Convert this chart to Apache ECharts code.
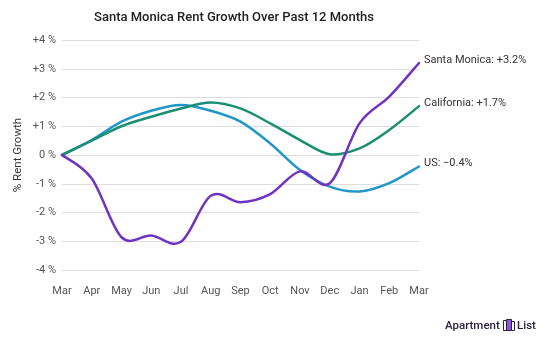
<!DOCTYPE html>
<html>
<head>
<meta charset="utf-8">
<script src="https://cdn.jsdelivr.net/npm/echarts@6/dist/echarts.min.js"></script>
<style>html,body{margin:0;padding:0;background:#fff}#c{width:550px;height:344px}</style>
</head>
<body>
<div id="c"></div>
<script>
const months = ['Mar','Apr','May','Jun','Jul','Aug','Sep','Oct','Nov','Dec','Jan','Feb','Mar'];
const santaMonica = [0, -0.82, -2.86, -2.8, -3.02, -1.42, -1.64, -1.36, -0.57, -0.98, 1.1, 2.03, 3.2];
const california = [0, 0.5, 1.0, 1.33, 1.62, 1.83, 1.62, 1.1, 0.52, 0.03, 0.23, 0.87, 1.7];
const us = [0, 0.52, 1.16, 1.54, 1.74, 1.54, 1.16, 0.4, -0.52, -1.1, -1.27, -0.98, -0.4];
const endLabels = ['Santa Monica: +3.2%', 'California: +1.7%', 'US: \u22120.4%'];
const yTicks = [-4, -3, -2, -1, 0, 1, 2, 3, 4];

const FONT = 'Roboto, sans-serif';
const chart = echarts.init(document.getElementById('c'), null, {renderer: 'canvas'});

function splineSeries(name, values, color, label) {
  return {
    name, type: 'custom', coordinateSystem: 'cartesian2d',
    data: [[0, values[0]]], encode: {x: 0, y: 1}, z: 3,
    renderItem: function (params, api) {
      const pts = values.map((v, i) => api.coord([i, v]));
      const n = pts.length;
      let d = 'M' + pts[0][0] + ' ' + pts[0][1];
      for (let i = 0; i < n - 1; i++) {
        const p0 = pts[Math.max(0, i - 1)], p1 = pts[i], p2 = pts[i + 1], p3 = pts[Math.min(n - 1, i + 2)];
        const c1x = p1[0] + (p2[0] - p0[0]) / 6, c1y = p1[1] + (p2[1] - p0[1]) / 6;
        const c2x = p2[0] - (p3[0] - p1[0]) / 6, c2y = p2[1] - (p3[1] - p1[1]) / 6;
        d += ' C' + c1x + ' ' + c1y + ' ' + c2x + ' ' + c2y + ' ' + p2[0] + ' ' + p2[1];
      }
      const last = pts[n - 1];
      return {
        type: 'group',
        children: [
          {type: 'path', shape: {pathData: d}, style: {stroke: color, fill: null, lineWidth: 2.5, lineJoin: 'round', lineCap: 'round'}},
          {type: 'text', x: last[0] + 5, y: last[1] - 3,
            style: {text: label, fill: '#333', fontSize: 11, fontFamily: FONT, verticalAlign: 'middle', align: 'left'}}
        ]
      };
    }
  };
}

chart.setOption({
  animation: false,
  title: {text: 'Santa Monica Rent Growth Over Past 12 Months', left: 229, textAlign: 'center', top: 6,
    textStyle: {fontSize: 13, fontWeight: 500, color: '#222', fontFamily: FONT}},
  grid: {left: 62, right: 131, top: 40, bottom: 74},
  xAxis: {type: 'category', data: months, boundaryGap: false,
    axisLine: {show: false}, axisTick: {show: false},
    axisLabel: {color: '#555', fontSize: 11, margin: 16, fontFamily: FONT, interval: 0}},
  yAxis: {type: 'value', min: yTicks[0], max: yTicks[yTicks.length - 1], interval: 1,
    name: '% Rent Growth', nameLocation: 'middle', nameGap: 38, nameRotate: 90, nameMoveOverlap: false,
    nameTextStyle: {color: '#333', fontSize: 11.5, fontFamily: FONT},
    axisLine: {show: false}, axisTick: {show: false},
    splitLine: {lineStyle: {color: '#ddd', width: 1}},
    axisLabel: {color: '#555', fontSize: 11, margin: 6, fontFamily: FONT,
      formatter: v => (v > 0 ? '+' + v : '' + v) + ' %'}},
  series: [
    splineSeries('US', us, '#2196c9', endLabels[2]),
    splineSeries('California', california, '#1b8f71', endLabels[1]),
    splineSeries('Santa Monica', santaMonica, '#7133c2', endLabels[0])
  ],
  graphic: [
    {type: 'text', left: 445, top: 320, style: {text: 'Apartment', fontSize: 11.5, fontWeight: 500, fill: '#2b2140', fontFamily: FONT}},
    {type: 'group', left: 503, top: 319, children: [
      {type: 'rect', shape: {x: 0, y: 2, width: 4, height: 10}, style: {fill: '#fff', stroke: '#2b2140', lineWidth: 1}},
      {type: 'rect', shape: {x: 3, y: 1, width: 5, height: 11}, style: {fill: '#8a5ad6', stroke: '#2b2140', lineWidth: 1}},
      {type: 'rect', shape: {x: 8, y: 3, width: 3, height: 9}, style: {fill: '#fff', stroke: '#2b2140', lineWidth: 1}}
    ]},
    {type: 'text', left: 517, top: 320, style: {text: 'List', fontSize: 11.5, fontWeight: 500, fill: '#2b2140', fontFamily: FONT}}
  ]
});
</script>
</body>
</html>
